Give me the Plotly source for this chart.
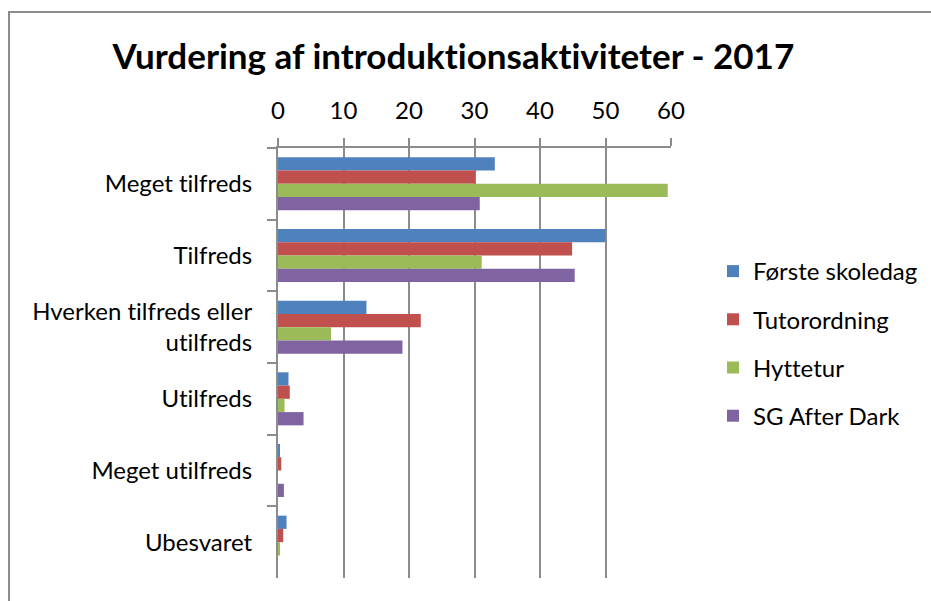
import plotly.graph_objects as go

categories = ["Meget tilfreds", "Tilfreds", "Hverken tilfreds eller<br>utilfreds",
              "Utilfreds", "Meget utilfreds", "Ubesvaret"]
series_names = ["Første skoledag", "Tutorordning", "Hyttetur", "SG After Dark"]
forste_skoledag = [33.1, 50.0, 13.5, 1.6, 0.3, 1.3]
tutorordning = [30.1, 44.9, 21.8, 1.8, 0.5, 0.8]
hyttetur = [59.5, 31.1, 8.1, 1.0, 0.0, 0.3]
sg_after_dark = [30.8, 45.3, 19.0, 3.9, 0.9, 0.0]
x_ticks = [0, 10, 20, 30, 40, 50, 60]
colors = ["#4F81BD", "#C0504D", "#9BBB59", "#8064A2"]

font_family = "Lato, Open Sans, sans-serif"
grid = "#8C8C8C"

fig = go.Figure()
for name, vals, col in zip(series_names,
                           [forste_skoledag, tutorordning, hyttetur, sg_after_dark],
                           colors):
    fig.add_trace(go.Bar(
        y=categories, x=vals, name=name, orientation="h",
        marker=dict(color=col, line=dict(width=0)),
        legendgroup=name,
    ))

fig.update_layout(
    width=931, height=601,
    margin=dict(l=278, r=260, t=148, b=23),
    paper_bgcolor="white", plot_bgcolor="white",
    barmode="group", bargap=0.26, bargroupgap=0,
    font=dict(family=font_family, size=24, color="#000000"),
    title=dict(text="<b>Vurdering af introduktionsaktiviteter - 2017</b>",
               x=0.487, xanchor="center", xref="container",
               y=1 - 57 / 601, yanchor="middle", yref="container",
               font=dict(size=35, family=font_family, color="#000000")),
    showlegend=True,
    legend=dict(x=713 / 931, xref="container", y=1 - 249 / 601, yref="container",
                yanchor="top", xanchor="left",
                traceorder="grouped", tracegroupgap=14,
                font=dict(size=24, family=font_family),
                itemwidth=30, bgcolor="rgba(0,0,0,0)"),
    xaxis=dict(side="top", range=[0, 60], tickvals=x_ticks,
               showgrid=True, gridcolor=grid, gridwidth=2,
               showline=True, linecolor=grid, linewidth=2,
               ticks="outside", ticklen=8, tickcolor=grid, tickwidth=2,
               ticklabelstandoff=9, zeroline=False,
               tickfont=dict(size=24)),
    yaxis=dict(autorange="reversed", type="category",
               showline=True, linecolor=grid, linewidth=2,
               ticks="outside", tickson="boundaries", ticklen=9,
               tickcolor=grid, tickwidth=2, ticklabelstandoff=19,
               showgrid=False, tickfont=dict(size=24)),
    shapes=[dict(type="rect", xref="paper", yref="paper",
                 x0=(9 - 278) / 393, x1=(940 - 278) / 393,
                 y0=-0.2, y1=1 + (148 - 12) / 430,
                 line=dict(color="#8C8C8C", width=2), fillcolor="rgba(0,0,0,0)",
                 layer="below")],
)

post = (
    "document.body.style.margin='0';document.body.style.padding='0';"
    "var s=document.createElement('style');"
    "s.textContent='text{font-variant-ligatures:none !important;font-feature-settings:\"liga\" 0,\"clig\" 0 !important;}';"
    "document.head.appendChild(s);"
)
fig.write_html("out.html", post_script=post, config={"displayModeBar": False})
